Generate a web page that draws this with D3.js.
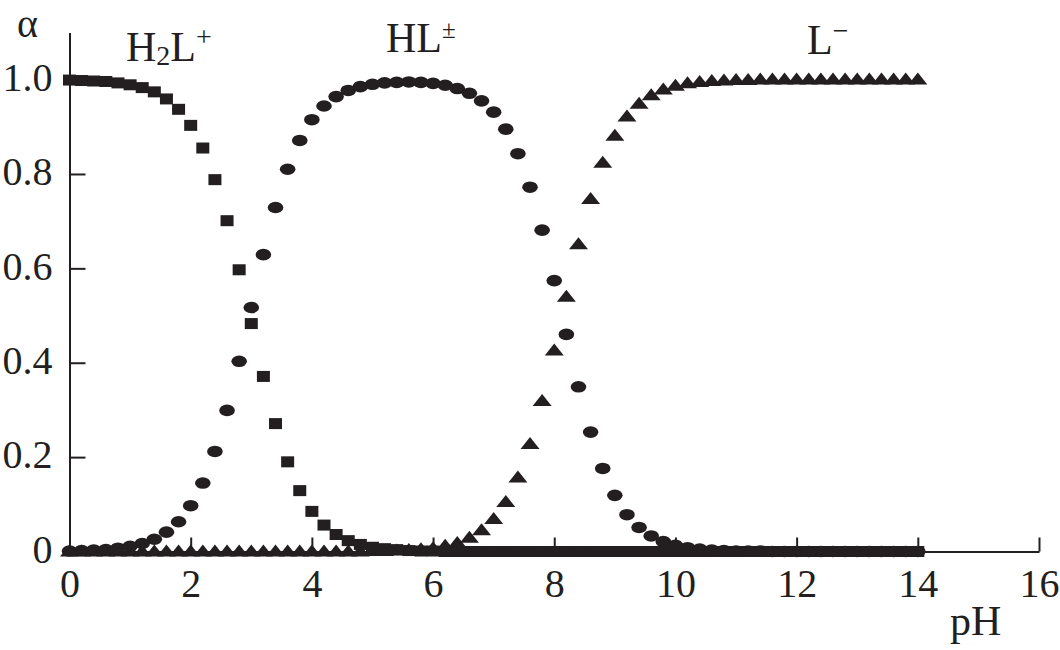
<!DOCTYPE html>
<html>
<head>
<meta charset="utf-8">
<script src="https://cdnjs.cloudflare.com/ajax/libs/d3/7.8.5/d3.min.js"></script>
<style>
  body { margin: 0; background: #fff; }
  text { font-family: "Liberation Serif", "Times New Roman", serif; fill: #231f20; }
</style>
</head>
<body>
<div class="chart"></div>
<script>
var svgWidth = 1060;
var svgHeight = 650;

// pH grid (0 ... 14, every 0.2)
var pH = [
  0, 0.2, 0.4, 0.6, 0.8, 1.0, 1.2, 1.4, 1.6, 1.8,
  2.0, 2.2, 2.4, 2.6, 2.8, 3.0, 3.2, 3.4, 3.6, 3.8,
  4.0, 4.2, 4.4, 4.6, 4.8, 5.0, 5.2, 5.4, 5.6, 5.8,
  6.0, 6.2, 6.4, 6.6, 6.8, 7.0, 7.2, 7.4, 7.6, 7.8,
  8.0, 8.2, 8.4, 8.6, 8.8, 9.0, 9.2, 9.4, 9.6, 9.8,
  10.0, 10.2, 10.4, 10.6, 10.8, 11.0, 11.2, 11.4, 11.6, 11.8,
  12.0, 12.2, 12.4, 12.6, 12.8, 13.0, 13.2, 13.4, 13.6, 13.8,
  14.0
];

// H2L+ (squares)
var alphaH2L = [
  0.999, 0.998, 0.997, 0.996, 0.993, 0.989, 0.983, 0.974, 0.959, 0.937,
  0.903, 0.855, 0.788, 0.701, 0.597, 0.483, 0.371, 0.271, 0.190, 0.129,
  0.085, 0.056, 0.036, 0.023, 0.015, 0.009, 0.006, 0.004, 0.002, 0.001,
  0.001, 0, 0, 0, 0, 0, 0, 0, 0, 0,
  0, 0, 0, 0, 0, 0, 0, 0, 0, 0,
  0, 0, 0, 0, 0, 0, 0, 0, 0, 0,
  0, 0, 0, 0, 0, 0, 0, 0, 0, 0,
  0
];

// HL± (circles)
var alphaHL = [
  0.001, 0.002, 0.003, 0.004, 0.007, 0.011, 0.017, 0.026, 0.041, 0.063,
  0.097, 0.145, 0.212, 0.299, 0.403, 0.517, 0.629, 0.729, 0.810, 0.871,
  0.915, 0.944, 0.964, 0.977, 0.985, 0.990, 0.993, 0.994, 0.995, 0.994,
  0.992, 0.988, 0.981, 0.971, 0.955, 0.931, 0.895, 0.843, 0.772, 0.681,
  0.574, 0.460, 0.349, 0.253, 0.176, 0.119, 0.078, 0.051, 0.033, 0.021,
  0.013, 0.008, 0.005, 0.003, 0.002, 0.001, 0.001, 0.001, 0, 0,
  0, 0, 0, 0, 0, 0, 0, 0, 0, 0,
  0
];

// L- (triangles)
var alphaL = [
  0, 0, 0, 0, 0, 0, 0, 0, 0, 0,
  0, 0, 0, 0, 0, 0, 0, 0, 0, 0,
  0, 0, 0, 0, 0, 0.001, 0.001, 0.002, 0.003, 0.005,
  0.007, 0.012, 0.018, 0.029, 0.045, 0.069, 0.105, 0.157, 0.228, 0.319,
  0.426, 0.540, 0.651, 0.747, 0.824, 0.881, 0.922, 0.949, 0.967, 0.979,
  0.987, 0.992, 0.995, 0.997, 0.998, 0.999, 0.999, 1.000, 1.000, 1.000,
  1.000, 1.000, 1.000, 1.000, 1.000, 1.000, 1.000, 1.000, 1.000, 1.000,
  1.000
];

var xTicks = [0, 2, 4, 6, 8, 10, 12, 14, 16];
var yTicks = [0, 0.2, 0.4, 0.6, 0.8, 1.0];
var yTickLabels = ["0", "0.2", "0.4", "0.6", "0.8", "1.0"];

var ink = "#231f20";

var svg = d3.select(".chart")
  .append("svg")
  .attr("width", svgWidth)
  .attr("height", svgHeight);

var xScale = d3.scaleLinear()
  .domain([0, 16])
  .range([69.5, 1039]);

var yScale = d3.scaleLinear()
  .domain([0, 1.1])
  .range([551.5, 32.4]);

var rows = pH.map(function(p, i) {
  return { pH: p, h2l: alphaH2L[i], hl: alphaHL[i], l: alphaL[i] };
});

// axes
var bottomAxis = d3.axisBottom(xScale)
  .tickValues(xTicks)
  .tickSizeInner(-14)
  .tickSizeOuter(0)
  .tickPadding(17)
  .tickFormat(d3.format("d"));

var leftAxis = d3.axisLeft(yScale)
  .tickValues(yTicks)
  .tickSizeInner(-16)
  .tickSizeOuter(0)
  .tickPadding(17)
  .tickFormat(function(d, i) { return yTickLabels[i]; });

var xAxisG = svg.append("g")
  .attr("transform", "translate(0," + yScale(0) + ")")
  .call(bottomAxis);

var yAxisG = svg.append("g")
  .attr("transform", "translate(" + xScale(0) + ",0)")
  .call(leftAxis);

[xAxisG, yAxisG].forEach(function(g) {
  g.selectAll("path, line").attr("stroke", ink).attr("stroke-width", 2);
  g.selectAll("text")
    .attr("fill", ink)
    .style("font-family", "'Liberation Serif', serif")
    .style("font-size", "40px");
});
yAxisG.selectAll("text").attr("dy", "0.27em");

// markers
var triangle = "M0,-7L9.5,5L-9.5,5Z";

svg.append("g").selectAll("path")
  .data(rows)
  .enter().append("path")
  .attr("d", triangle)
  .attr("transform", function(d) { return "translate(" + xScale(d.pH) + "," + yScale(d.l) + ")"; })
  .attr("fill", ink);

svg.append("g").selectAll("rect")
  .data(rows)
  .enter().append("rect")
  .attr("x", function(d) { return xScale(d.pH) - 6.5; })
  .attr("y", function(d) { return yScale(d.h2l) - 5.5; })
  .attr("width", 13)
  .attr("height", 11)
  .attr("fill", ink);

svg.append("g").selectAll("ellipse")
  .data(rows)
  .enter().append("ellipse")
  .attr("cx", function(d) { return xScale(d.pH); })
  .attr("cy", function(d) { return yScale(d.hl); })
  .attr("rx", 7.8)
  .attr("ry", 5.8)
  .attr("fill", ink);

// labels
svg.append("text")
  .attr("x", 17)
  .attr("y", 37)
  .style("font-size", "40px")
  .text("α");

var h2l = svg.append("text")
  .attr("x", 126)
  .attr("y", 61)
  .style("font-size", "42px");
h2l.append("tspan").text("H");
h2l.append("tspan").attr("dy", 4).style("font-size", "28px").text("2");
h2l.append("tspan").attr("dy", -4).text("L");
h2l.append("tspan").attr("dy", -15).style("font-size", "28px").text("+");

var hl = svg.append("text")
  .attr("x", 386)
  .attr("y", 52)
  .style("font-size", "42px");
hl.append("tspan").text("HL");
hl.append("tspan").attr("dy", -14).style("font-size", "25px").text("±");

var lm = svg.append("text")
  .attr("x", 807)
  .attr("y", 54)
  .style("font-size", "42px");
lm.append("tspan").text("L");
lm.append("tspan").attr("dy", -14).style("font-size", "28px").text("−");

svg.append("text")
  .attr("x", 950)
  .attr("y", 635)
  .style("font-size", "42px")
  .text("pH");
</script>
</body>
</html>
